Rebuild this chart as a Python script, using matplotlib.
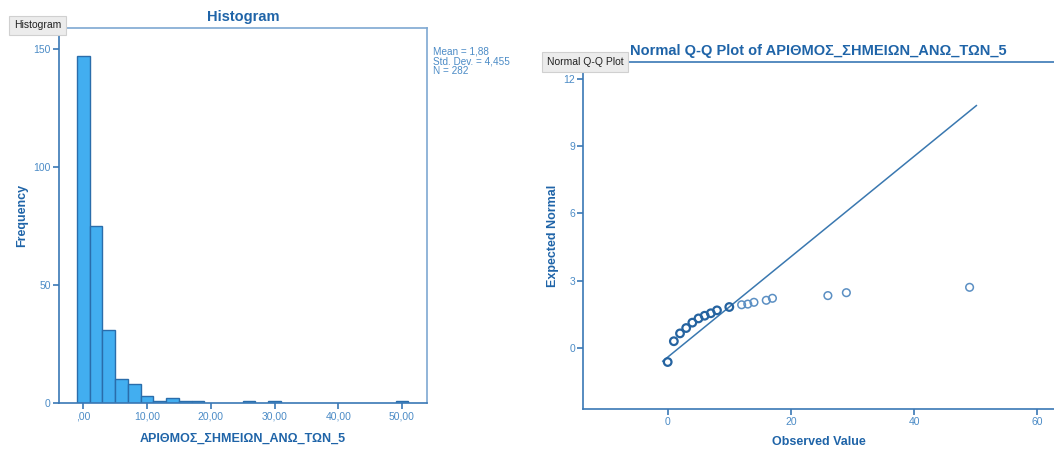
import matplotlib
matplotlib.use('Agg')
import matplotlib.pyplot as plt

plt.rcParams['font.family'] = ['Liberation Sans', 'DejaVu Sans']

VAR_NAME = 'ΑΡΙΘΜΟΣ_ΣΗΜΕΙΩΝ_ΑΝΩ_ΤΩΝ_5'

# histogram bins (width 2, centred on even values)
bin_centers = [0, 2, 4, 6, 8, 10, 12, 14, 16, 18, 26, 30, 50]
bin_counts = [147, 75, 31, 10, 8, 3, 1, 2, 1, 1, 1, 1, 1]
mean_val = 1.88
std_val = 4.455
n_val = 282

# normal Q-Q points
observed = [0, 1, 2, 3, 4, 5, 6, 7, 8, 10, 12, 13, 14, 16, 17, 26, 29, 49]
expected = [-0.64, 0.29, 0.64, 0.88, 1.12, 1.31, 1.43, 1.54, 1.67, 1.82,
            1.92, 1.95, 2.03, 2.12, 2.21, 2.33, 2.46, 2.70]
line_range = [-0.8, 50.1]

TITLE_C = '#1f64a8'
TICK_C = '#4b8bc6'
SPINE_C = '#3a78b5'
LIGHT_SPINE = '#7ea8d2'


def fmt_comma(v, dec):
    # SPSS style: decimal comma, no leading zero
    s = f'{v:.{dec}f}'.replace('.', ',')
    if s.startswith('0,'):
        s = s[1:]
    return s


def style_axes(ax):
    for side in ['left', 'bottom']:
        ax.spines[side].set_color(SPINE_C)
        ax.spines[side].set_linewidth(1.2)
    ax.tick_params(direction='out', length=4, width=1.2, color=SPINE_C,
                   labelcolor=TICK_C, labelsize=7.5, pad=2)


def tab_label(x, y, text):
    fig.text(x, y, text, ha='center', va='center', fontsize=7.5, color='#222222',
             bbox=dict(boxstyle='square,pad=0.45', fc='#ececec', ec='#d0d0d0', lw=0.8))


fig = plt.figure(figsize=(10.54, 4.5), dpi=100)

# ---- histogram ----
ax1 = fig.add_axes([0.056, 0.1044, 0.349, 0.8334])
ax1.bar(bin_centers, bin_counts, width=2, color='#42aef0', edgecolor='#2a6dab', linewidth=1)
ax1.set_xlim(-3.8, 53.9)
ax1.set_ylim(0, 158.7)
ax1.set_yticks([0, 50, 100, 150])
ax1.set_xticks([0, 10, 20, 30, 40, 50])
ax1.set_xticklabels([fmt_comma(v, 2) for v in [0, 10, 20, 30, 40, 50]])
style_axes(ax1)
for side in ['top', 'right']:
    ax1.spines[side].set_color(LIGHT_SPINE)
    ax1.spines[side].set_linewidth(1.2)
ax1.set_title('Histogram', fontsize=10.5, fontweight='bold', color=TITLE_C, pad=5)
ax1.set_xlabel(VAR_NAME, fontsize=9, fontweight='bold', color=TITLE_C, labelpad=8)
ax1.set_ylabel('Frequency', fontsize=9, fontweight='bold', color=TITLE_C, labelpad=4)
stats_txt = (f'Mean = {fmt_comma(mean_val, 2)}\n'
             f'Std. Dev. = {fmt_comma(std_val, 3)}\n'
             f'N = {n_val}')
fig.text(0.4105, 0.897, stats_txt, ha='left', va='top', fontsize=7.2,
         color=TICK_C, linespacing=0.98)

# ---- normal Q-Q plot ----
ax2 = fig.add_axes([0.5534, 0.0911, 0.4466, 0.7705])
x_line = line_range
y_line = [(x - mean_val) / std_val for x in x_line]
ax2.plot(x_line, y_line, color='#3a78b0', linewidth=1.1)
ax2.scatter(observed[:10], expected[:10], s=30, facecolors='none',
            edgecolors='#2563a0', linewidths=1.6, zorder=3)
ax2.scatter(observed[10:], expected[10:], s=30, facecolors='none',
            edgecolors='#5b8fc3', linewidths=1.1, zorder=3)
ax2.set_xlim(-13.7, 62.7)
ax2.set_ylim(-2.74, 12.76)
ax2.set_xticks([0, 20, 40, 60])
ax2.set_yticks([0, 3, 6, 9, 12])
style_axes(ax2)
ax2.spines['top'].set_color(SPINE_C)
ax2.spines['top'].set_linewidth(1.2)
ax2.spines['right'].set_visible(False)
ax2.set_title(f'Normal Q-Q Plot of {VAR_NAME}', fontsize=10.5, fontweight='bold',
              color=TITLE_C, pad=5)
ax2.set_xlabel('Observed Value', fontsize=9, fontweight='bold', color=TITLE_C, labelpad=6)
ax2.set_ylabel('Expected Normal', fontsize=9, fontweight='bold', color=TITLE_C, labelpad=3)

tab_label(0.0356, 0.944, 'Histogram')
tab_label(0.555, 0.862, 'Normal Q-Q Plot')

fig.savefig('out.png', dpi=100)
